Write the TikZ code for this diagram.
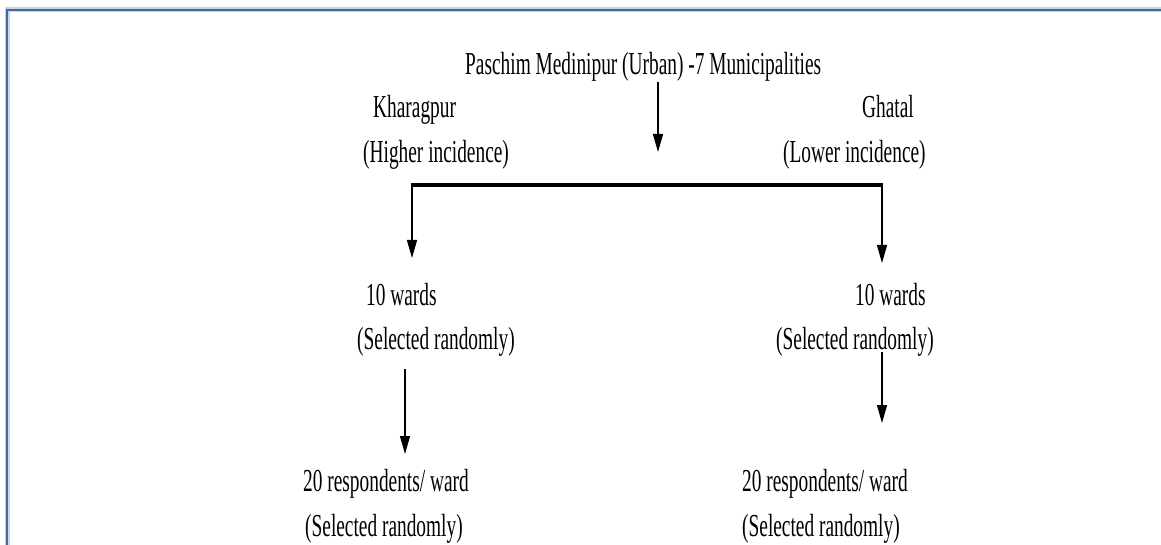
\documentclass[tikz,border=0pt]{standalone}
\usepackage{fontspec}
\setmainfont{Liberation Serif}
\usepackage{graphicx}
\usetikzlibrary{arrows.meta}
\definecolor{frameblue}{HTML}{46699B}
\definecolor{framelight}{HTML}{C9D5E6}
\newcommand\sqz[1]{\scalebox{0.605}[1]{#1}}
\tikzset{
  lbl/.style={anchor=base west, inner sep=0pt, font=\fontsize{32}{38}\selectfont, text=black},
  arr/.style={line width=1.4pt, -{Triangle[length=18pt,width=10pt]}},
  bar/.style={line width=3.5pt},
  thin/.style={line width=1.4pt}
}
\begin{document}
\begin{tikzpicture}[x=1pt,y=-1pt]
\useasboundingbox (0,0) rectangle (1161,545);
\fill[white] (0,0) rectangle (1161,545);
% frame
\draw[framelight, line width=5pt] (7,545) -- (7,10) -- (1161,10);
\draw[frameblue, line width=2.2pt] (7,545) -- (7,10) -- (1161,10);

% texts
\node[lbl] (title) at (465,75) {\sqz{Paschim Medinipur (Urban) -7 Municipalities}};
\node[lbl] (khar) at (373,118) {\sqz{Kharagpur}};
\node[lbl] (kharsub) at (363,163) {\sqz{(Higher incidence)}};
\node[lbl] (ghat) at (862,118) {\sqz{Ghatal}};
\node[lbl] (ghatsub) at (783,163) {\sqz{(Lower incidence)}};
\node[lbl] (wl) at (366,305) {\sqz{10 wards}};
\node[lbl] (wlsub) at (357,349) {\sqz{(Selected randomly)}};
\node[lbl] (wr) at (855,305) {\sqz{10 wards}};
\node[lbl] (wrsub) at (776,349) {\sqz{(Selected randomly)}};
\node[lbl] (rl) at (303,491) {\sqz{20 respondents/ ward}};
\node[lbl] (rlsub) at (305,536) {\sqz{(Selected randomly)}};
\node[lbl] (rr) at (742,491) {\sqz{20 respondents/ ward}};
\node[lbl] (rrsub) at (742,536) {\sqz{(Selected randomly)}};

% coordinates
\coordinate (tA) at (658,82);
\coordinate (tB) at (658,152);
\coordinate (L) at (412,185);
\coordinate (R) at (882,185);
\coordinate (Lt) at (412,258);
\coordinate (Rt) at (882,263);
\coordinate (La) at (405,369);
\coordinate (Lb) at (405,454);
\coordinate (Ra) at (882,352);
\coordinate (Rb) at (882,423);

% connectors
\draw[arr] (tA) -- (tB);
\draw[bar] ([xshift=-1pt]L) -- ([xshift=1pt]R);
\draw[arr] (L) -- (Lt);
\draw[arr] (R) -- (Rt);
\draw[arr] (La) -- (Lb);
\draw[arr] (Ra) -- (Rb);
\end{tikzpicture}
\end{document}
